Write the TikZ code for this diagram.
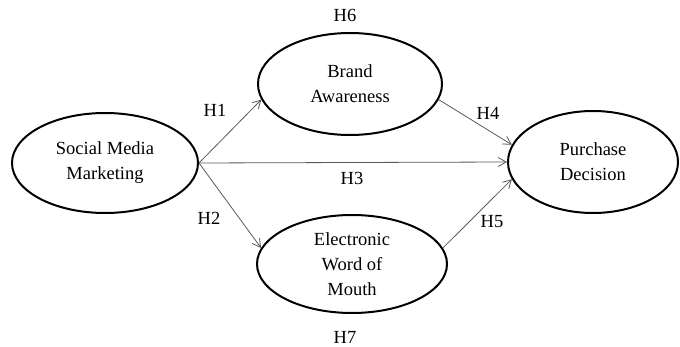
\documentclass[tikz,border=0pt]{standalone}
\usepackage{fontspec}
\setmainfont{Liberation Serif}
\usetikzlibrary{shapes.geometric,arrows.meta}

\begin{document}
\begin{tikzpicture}[
        x = 1pt, y = -1pt,
        line join=round,
        >={Straight Barb[length=8pt,width=9pt]},
        latent/.style = {ellipse, draw, line width=2pt, inner sep=0pt, align=center,
            font=\fontsize{18.5}{25}\selectfont},
        link/.style = {->, black!65, line width=0.8pt},
        hlabel/.style = {font=\fontsize{18.5}{22}\selectfont}
    ]
        \useasboundingbox (0, 0) rectangle (680, 347);

        \node[latent, minimum width=186pt, minimum height=100pt] (sm) at (105, 163) {Social Media\\Marketing};
        \node[latent, minimum width=184pt, minimum height=102pt] (ba) at (350, 84) {Brand\\Awareness};
        \node[latent, minimum width=190pt, minimum height=98pt] (ew) at (352, 264) {Electronic\\Word of\\Mouth};
        \node[latent, minimum width=170pt, minimum height=102pt] (pd) at (593, 162) {Purchase\\Decision};

        \draw[link] (sm.east) -- (ba.190);
        \draw[link] (sm.east) -- (ew.170);
        \draw[link] (sm.east) -- (pd.west);
        \draw[link] (ba.350) -- (pd.168);
        \draw[link] (ew.10) -- (pd.192);

        \node[hlabel] (h1) at (215, 110) {H1};
        \node[hlabel] (h2) at (209, 218) {H2};
        \node[hlabel] (h3) at (352, 178) {H3};
        \node[hlabel] (h4) at (488, 113) {H4};
        \node[hlabel] (h5) at (492, 222) {H5};
        \node[hlabel] (h6) at (345, 15) {H6};
        \node[hlabel] (h7) at (345, 337) {H7};

    \end{tikzpicture}
\end{document}
